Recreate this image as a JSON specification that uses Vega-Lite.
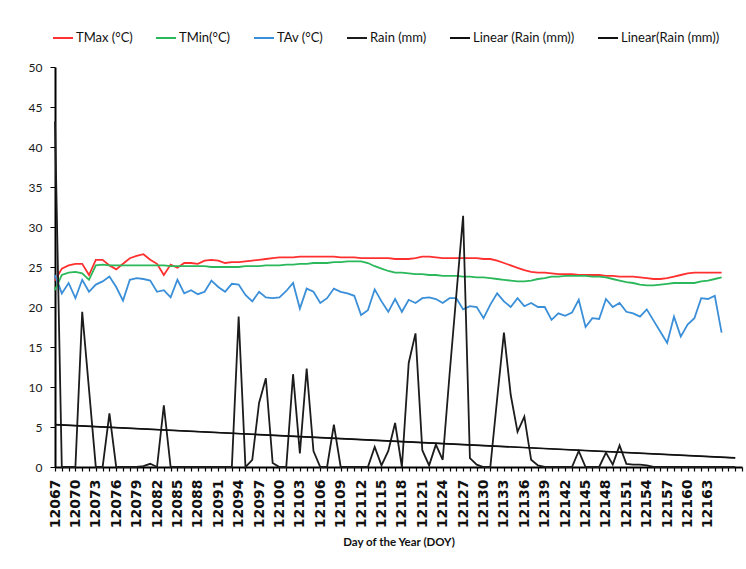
{
  "$schema": "https://vega.github.io/schema/vega-lite/v6.json",
  "width": 687,
  "height": 400,
  "autosize": {"type": "none"},
  "padding": {"left": 55, "top": 67, "right": 4, "bottom": 102},
  "background": "white",
  "config": {
    "view": {"stroke": null},
    "font": "Lato"
  },
  "data": {"values": [
    {"DOY": 12067, "TMax": 23.3, "TMin": 22.1, "TAv": 24.0, "Rain": 43.2},
    {"DOY": 12068, "TMax": 24.8, "TMin": 24.0, "TAv": 21.7, "Rain": 0},
    {"DOY": 12069, "TMax": 25.2, "TMin": 24.3, "TAv": 23.0, "Rain": 0},
    {"DOY": 12070, "TMax": 25.4, "TMin": 24.4, "TAv": 21.1, "Rain": 0},
    {"DOY": 12071, "TMax": 25.4, "TMin": 24.2, "TAv": 23.4, "Rain": 19.4},
    {"DOY": 12072, "TMax": 24.0, "TMin": 23.4, "TAv": 21.9, "Rain": 9.7},
    {"DOY": 12073, "TMax": 25.9, "TMin": 25.2, "TAv": 22.8, "Rain": 0},
    {"DOY": 12074, "TMax": 25.9, "TMin": 25.3, "TAv": 23.2, "Rain": 0},
    {"DOY": 12075, "TMax": 25.2, "TMin": 25.2, "TAv": 23.8, "Rain": 6.7},
    {"DOY": 12076, "TMax": 24.7, "TMin": 25.2, "TAv": 22.5, "Rain": 0},
    {"DOY": 12077, "TMax": 25.4, "TMin": 25.2, "TAv": 20.8, "Rain": 0},
    {"DOY": 12078, "TMax": 26.1, "TMin": 25.2, "TAv": 23.4, "Rain": 0},
    {"DOY": 12079, "TMax": 26.4, "TMin": 25.2, "TAv": 23.6, "Rain": 0},
    {"DOY": 12080, "TMax": 26.6, "TMin": 25.2, "TAv": 23.5, "Rain": 0.1},
    {"DOY": 12081, "TMax": 25.9, "TMin": 25.2, "TAv": 23.3, "Rain": 0.4},
    {"DOY": 12082, "TMax": 25.4, "TMin": 25.2, "TAv": 21.9, "Rain": 0},
    {"DOY": 12083, "TMax": 24.0, "TMin": 25.2, "TAv": 22.1, "Rain": 7.7},
    {"DOY": 12084, "TMax": 25.3, "TMin": 25.1, "TAv": 21.2, "Rain": 0},
    {"DOY": 12085, "TMax": 24.9, "TMin": 25.1, "TAv": 23.4, "Rain": 0},
    {"DOY": 12086, "TMax": 25.5, "TMin": 25.1, "TAv": 21.7, "Rain": 0},
    {"DOY": 12087, "TMax": 25.5, "TMin": 25.1, "TAv": 22.1, "Rain": 0},
    {"DOY": 12088, "TMax": 25.4, "TMin": 25.1, "TAv": 21.6, "Rain": 0},
    {"DOY": 12089, "TMax": 25.8, "TMin": 25.1, "TAv": 21.9, "Rain": 0},
    {"DOY": 12090, "TMax": 25.9, "TMin": 25.0, "TAv": 23.3, "Rain": 0},
    {"DOY": 12091, "TMax": 25.8, "TMin": 25.0, "TAv": 22.5, "Rain": 0},
    {"DOY": 12092, "TMax": 25.5, "TMin": 25.0, "TAv": 21.9, "Rain": 0},
    {"DOY": 12093, "TMax": 25.6, "TMin": 25.0, "TAv": 22.9, "Rain": 0},
    {"DOY": 12094, "TMax": 25.6, "TMin": 25.0, "TAv": 22.8, "Rain": 18.8},
    {"DOY": 12095, "TMax": 25.7, "TMin": 25.1, "TAv": 21.5, "Rain": 0},
    {"DOY": 12096, "TMax": 25.8, "TMin": 25.1, "TAv": 20.7, "Rain": 0.9},
    {"DOY": 12097, "TMax": 25.9, "TMin": 25.1, "TAv": 21.9, "Rain": 8.0},
    {"DOY": 12098, "TMax": 26.0, "TMin": 25.2, "TAv": 21.2, "Rain": 11.1},
    {"DOY": 12099, "TMax": 26.1, "TMin": 25.2, "TAv": 21.1, "Rain": 0.5},
    {"DOY": 12100, "TMax": 26.2, "TMin": 25.2, "TAv": 21.2, "Rain": 0},
    {"DOY": 12101, "TMax": 26.2, "TMin": 25.3, "TAv": 22.0, "Rain": 0},
    {"DOY": 12102, "TMax": 26.2, "TMin": 25.3, "TAv": 23.0, "Rain": 11.6},
    {"DOY": 12103, "TMax": 26.3, "TMin": 25.4, "TAv": 19.8, "Rain": 1.7},
    {"DOY": 12104, "TMax": 26.3, "TMin": 25.4, "TAv": 22.3, "Rain": 12.3},
    {"DOY": 12105, "TMax": 26.3, "TMin": 25.5, "TAv": 21.9, "Rain": 2.0},
    {"DOY": 12106, "TMax": 26.3, "TMin": 25.5, "TAv": 20.5, "Rain": 0},
    {"DOY": 12107, "TMax": 26.3, "TMin": 25.5, "TAv": 21.1, "Rain": 0},
    {"DOY": 12108, "TMax": 26.3, "TMin": 25.6, "TAv": 22.3, "Rain": 5.3},
    {"DOY": 12109, "TMax": 26.2, "TMin": 25.6, "TAv": 21.9, "Rain": 0},
    {"DOY": 12110, "TMax": 26.2, "TMin": 25.7, "TAv": 21.7, "Rain": 0},
    {"DOY": 12111, "TMax": 26.2, "TMin": 25.7, "TAv": 21.4, "Rain": 0},
    {"DOY": 12112, "TMax": 26.1, "TMin": 25.7, "TAv": 19.0, "Rain": 0},
    {"DOY": 12113, "TMax": 26.1, "TMin": 25.5, "TAv": 19.6, "Rain": 0},
    {"DOY": 12114, "TMax": 26.1, "TMin": 25.1, "TAv": 22.2, "Rain": 2.5},
    {"DOY": 12115, "TMax": 26.1, "TMin": 24.8, "TAv": 20.7, "Rain": 0.2},
    {"DOY": 12116, "TMax": 26.1, "TMin": 24.5, "TAv": 19.4, "Rain": 2.0},
    {"DOY": 12117, "TMax": 26.0, "TMin": 24.3, "TAv": 21.0, "Rain": 5.5},
    {"DOY": 12118, "TMax": 26.0, "TMin": 24.3, "TAv": 19.4, "Rain": 0},
    {"DOY": 12119, "TMax": 26.0, "TMin": 24.2, "TAv": 20.9, "Rain": 13.0},
    {"DOY": 12120, "TMax": 26.1, "TMin": 24.1, "TAv": 20.5, "Rain": 16.7},
    {"DOY": 12121, "TMax": 26.3, "TMin": 24.1, "TAv": 21.1, "Rain": 2.1},
    {"DOY": 12122, "TMax": 26.3, "TMin": 24.0, "TAv": 21.2, "Rain": 0.2},
    {"DOY": 12123, "TMax": 26.2, "TMin": 24.0, "TAv": 21.0, "Rain": 2.8},
    {"DOY": 12124, "TMax": 26.1, "TMin": 23.9, "TAv": 20.5, "Rain": 0.9},
    {"DOY": 12125, "TMax": 26.1, "TMin": 23.9, "TAv": 21.1, "Rain": 11.5},
    {"DOY": 12126, "TMax": 26.1, "TMin": 23.9, "TAv": 21.1, "Rain": 21.5},
    {"DOY": 12127, "TMax": 26.1, "TMin": 23.8, "TAv": 19.7, "Rain": 31.4},
    {"DOY": 12128, "TMax": 26.1, "TMin": 23.8, "TAv": 20.1, "Rain": 1.1},
    {"DOY": 12129, "TMax": 26.1, "TMin": 23.7, "TAv": 20.0, "Rain": 0.3},
    {"DOY": 12130, "TMax": 26.0, "TMin": 23.7, "TAv": 18.6, "Rain": 0},
    {"DOY": 12131, "TMax": 26.0, "TMin": 23.6, "TAv": 20.3, "Rain": 0},
    {"DOY": 12132, "TMax": 25.8, "TMin": 23.5, "TAv": 21.7, "Rain": 8.5},
    {"DOY": 12133, "TMax": 25.5, "TMin": 23.4, "TAv": 20.7, "Rain": 16.8},
    {"DOY": 12134, "TMax": 25.2, "TMin": 23.3, "TAv": 20.0, "Rain": 9.0},
    {"DOY": 12135, "TMax": 24.9, "TMin": 23.2, "TAv": 21.1, "Rain": 4.4},
    {"DOY": 12136, "TMax": 24.6, "TMin": 23.2, "TAv": 20.1, "Rain": 6.3},
    {"DOY": 12137, "TMax": 24.4, "TMin": 23.3, "TAv": 20.5, "Rain": 0.9},
    {"DOY": 12138, "TMax": 24.3, "TMin": 23.5, "TAv": 20.0, "Rain": 0.2},
    {"DOY": 12139, "TMax": 24.3, "TMin": 23.6, "TAv": 20.0, "Rain": 0},
    {"DOY": 12140, "TMax": 24.2, "TMin": 23.8, "TAv": 18.4, "Rain": 0},
    {"DOY": 12141, "TMax": 24.1, "TMin": 23.8, "TAv": 19.2, "Rain": 0},
    {"DOY": 12142, "TMax": 24.1, "TMin": 23.9, "TAv": 18.9, "Rain": 0},
    {"DOY": 12143, "TMax": 24.1, "TMin": 23.9, "TAv": 19.3, "Rain": 0},
    {"DOY": 12144, "TMax": 24.0, "TMin": 23.9, "TAv": 20.9, "Rain": 2.0},
    {"DOY": 12145, "TMax": 24.0, "TMin": 23.9, "TAv": 17.5, "Rain": 0},
    {"DOY": 12146, "TMax": 24.0, "TMin": 23.8, "TAv": 18.6, "Rain": 0},
    {"DOY": 12147, "TMax": 24.0, "TMin": 23.8, "TAv": 18.5, "Rain": 0},
    {"DOY": 12148, "TMax": 23.9, "TMin": 23.7, "TAv": 21.0, "Rain": 1.8},
    {"DOY": 12149, "TMax": 23.9, "TMin": 23.5, "TAv": 20.0, "Rain": 0.3},
    {"DOY": 12150, "TMax": 23.8, "TMin": 23.3, "TAv": 20.5, "Rain": 2.7},
    {"DOY": 12151, "TMax": 23.8, "TMin": 23.1, "TAv": 19.4, "Rain": 0.4},
    {"DOY": 12152, "TMax": 23.8, "TMin": 23.0, "TAv": 19.2, "Rain": 0.3},
    {"DOY": 12153, "TMax": 23.7, "TMin": 22.8, "TAv": 18.8, "Rain": 0.3},
    {"DOY": 12154, "TMax": 23.6, "TMin": 22.7, "TAv": 19.7, "Rain": 0.2},
    {"DOY": 12155, "TMax": 23.5, "TMin": 22.7, "TAv": 18.3, "Rain": 0},
    {"DOY": 12156, "TMax": 23.5, "TMin": 22.8, "TAv": 16.9, "Rain": 0},
    {"DOY": 12157, "TMax": 23.6, "TMin": 22.9, "TAv": 15.5, "Rain": 0},
    {"DOY": 12158, "TMax": 23.8, "TMin": 23.0, "TAv": 18.8, "Rain": 0},
    {"DOY": 12159, "TMax": 24.0, "TMin": 23.0, "TAv": 16.3, "Rain": 0},
    {"DOY": 12160, "TMax": 24.2, "TMin": 23.0, "TAv": 17.8, "Rain": 0},
    {"DOY": 12161, "TMax": 24.3, "TMin": 23.0, "TAv": 18.6, "Rain": 0},
    {"DOY": 12162, "TMax": 24.3, "TMin": 23.2, "TAv": 21.1, "Rain": 0},
    {"DOY": 12163, "TMax": 24.3, "TMin": 23.3, "TAv": 21.0, "Rain": 0},
    {"DOY": 12164, "TMax": 24.3, "TMin": 23.5, "TAv": 21.4, "Rain": 0},
    {"DOY": 12165, "TMax": 24.3, "TMin": 23.7, "TAv": 16.8, "Rain": 0},
    {"DOY": 12166, "TMax": null, "TMin": null, "TAv": null, "Rain": 0},
    {"DOY": 12167, "TMax": null, "TMin": null, "TAv": null, "Rain": 0}
  ]},
  "encoding": {
    "x": {
      "field": "DOY", "type": "quantitative",
      "scale": {"domain": [12067, 12168], "nice": false, "zero": false},
      "axis": {
        "values": [12067,12068,12069,12070,12071,12072,12073,12074,12075,12076,12077,12078,12079,12080,12081,12082,12083,12084,12085,12086,12087,12088,12089,12090,12091,12092,12093,12094,12095,12096,12097,12098,12099,12100,12101,12102,12103,12104,12105,12106,12107,12108,12109,12110,12111,12112,12113,12114,12115,12116,12117,12118,12119,12120,12121,12122,12123,12124,12125,12126,12127,12128,12129,12130,12131,12132,12133,12134,12135,12136,12137,12138,12139,12140,12141,12142,12143,12144,12145,12146,12147,12148,12149,12150,12151,12152,12153,12154,12155,12156,12157,12158,12159,12160,12161,12162,12163,12164,12165,12166,12167,12168],
        "labelExpr": "((datum.value - 12067) % 3 == 0 && datum.value <= 12163) ? ('' + datum.value) : ''",
        "labelAngle": -90,
        "labelFont": "DejaVu Sans",
        "labelFontSize": 14,
        "labelFontWeight": "bold",
        "labelColor": "#111111",
        "labelPadding": 8,
        "labelOverlap": false,
        "labelFlush": false,
        "labelBound": false,
        "tickSize": 4,
        "tickColor": "#000000",
        "tickWidth": 1.2,
        "domainColor": "#000000",
        "domainWidth": 2,
        "grid": false,
        "title": "Day of the Year (DOY)",
        "titleFont": "Lato",
        "titleFontSize": 11.5,
        "titleFontWeight": "bold",
        "titleColor": "#111111",
        "titlePadding": 9
      }
    },
    "y": {
      "field": "value", "type": "quantitative",
      "scale": {"domain": [0, 50], "nice": false},
      "axis": {
        "values": [0,5,10,15,20,25,30,35,40,45,50],
        "labelOverlap": false,
        "labelFlush": false,
        "title": null,
        "grid": false,
        "labelFont": "Lato",
        "labelFontSize": 12,
        "labelColor": "#1a1a1a",
        "labelPadding": 8,
        "tickSize": 5,
        "tickColor": "#000000",
        "domainColor": "#000000",
        "domainWidth": 2
      }
    }
  },
  "layer": [
    {
      "transform": [{"fold": ["TMax", "TMin", "TAv", "Rain"], "as": ["series", "value"]}],
      "mark": {"type": "line", "strokeWidth": 1.8},
      "encoding": {
        "color": {
          "field": "series", "type": "nominal",
          "scale": {
            "domain": ["TMax", "TMin", "TAv", "Rain", "Linear1", "Linear2"],
            "range": ["#ff3030", "#2bb85a", "#3a8fd8", "#1c1c1c", "#111111", "#111111"]
          },
          "legend": {
            "title": null,
            "orient": "none",
            "legendX": -3,
            "legendY": -40,
            "direction": "horizontal",
            "symbolType": "stroke",
            "symbolSize": 400,
            "symbolStrokeWidth": 2,
            "labelFont": "Lato",
            "labelFontSize": 13,
            "labelColor": "#111111",
            "labelOffset": 2,
            "labelLimit": 0,
            "columnPadding": 19,
            "labelExpr": "datum.value == 'TMax' ? 'TMax (°C)' : datum.value == 'TMin' ? 'TMin(°C)' : datum.value == 'TAv' ? 'TAv (°C)' : datum.value == 'Rain' ? 'Rain (mm)' : datum.value == 'Linear1' ? 'Linear (Rain (mm))' : 'Linear(Rain (mm))'"
          }
        }
      }
    },
    {
      "transform": [{"regression": "Rain", "on": "DOY", "extent": [12067, 12167], "as": ["DOY", "value"]}],
      "mark": {"type": "line", "strokeWidth": 1.6},
      "encoding": {
        "color": {"datum": "Linear1", "type": "nominal"}
      }
    },
    {
      "transform": [{"regression": "Rain", "on": "DOY", "extent": [12067, 12167], "as": ["DOY", "value"]}],
      "mark": {"type": "line", "strokeWidth": 1.2},
      "encoding": {
        "color": {"datum": "Linear2", "type": "nominal"}
      }
    }
  ]
}
